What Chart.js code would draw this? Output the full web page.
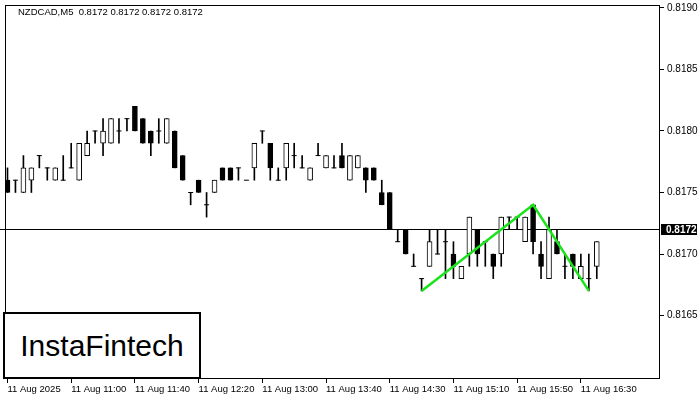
<!DOCTYPE html>
<html>
<head>
<meta charset="utf-8">
<script src="https://cdn.jsdelivr.net/npm/chart.js@4.4.1/dist/chart.umd.min.js"></script>
<style>
  body { margin: 0; background: #fff; }
  #wrap { position: relative; width: 700px; height: 400px; }
  #header { position: absolute; left: 18px; top: 6px; font: 9.5px "Liberation Sans", Arial, sans-serif; white-space: pre; color: #000; }
  #logo { position: absolute; left: 3px; top: 312px; width: 194px; height: 63px; border: 2px solid #000; background: #fff;
          font: 30px "Liberation Sans", Arial, sans-serif; line-height: 63px; text-align: center; color: #000; }
</style>
</head>
<body>
<div id="wrap">
  <canvas id="chart" width="700" height="400"></canvas>
  <div id="header">NZDCAD,M5  0.8172 0.8172 0.8172 0.8172</div>
  <div id="logo">InstaFintech</div>
</div>
<script>
// M5 bars
const opens = [0.8176,0.8176,0.8175,0.8176,0.8178,0.8177,0.8176,0.8176,0.8177,0.8176,
  0.8178,0.8180,0.8179,0.8179,0.8180,0.8181,0.8182,0.8181,0.8180,0.8180,
  0.8179,0.8180,0.8178,0.8175,0.8176,0.8174,0.8175,0.8177,0.8177,0.8177,
  0.8176,0.8177,0.8180,0.8179,0.8176,0.8177,0.8178,0.8177,0.8176,0.8178,
  0.8177,0.8177,0.8178,0.8176,0.8177,0.8177,0.8177,0.8175,0.8175,0.8171,
  0.8172,0.8169,0.8168,0.8169,0.8170,0.8171,0.8170,0.8168,0.8170,0.8172,
  0.8171,0.8170,0.8170,0.8173,0.8173,0.8171,0.8174,0.8170,0.8168,0.8171,
  0.8169,0.8170,0.8168,0.8168,0.8169];
const highs = [0.8177,0.8176,0.8178,0.8177,0.8178,0.8177,0.8177,0.8178,0.8179,0.8179,
  0.8180,0.8180,0.8181,0.8181,0.8181,0.8181,0.8182,0.8181,0.8180,0.8181,
  0.8181,0.8180,0.8178,0.8175,0.8176,0.8175,0.8176,0.8177,0.8177,0.8177,
  0.8176,0.8179,0.8180,0.8179,0.8177,0.8179,0.8179,0.8178,0.8177,0.8179,
  0.8178,0.8178,0.8179,0.8178,0.8178,0.8177,0.8177,0.8176,0.8175,0.8172,
  0.8172,0.8170,0.8168,0.8172,0.8172,0.8172,0.8171,0.8169,0.8173,0.8172,
  0.8171,0.8170,0.8173,0.8173,0.8173,0.8173,0.8174,0.8171,0.8173,0.8172,
  0.8170,0.8170,0.8170,0.8170,0.8171];
const lows = [0.8175,0.8175,0.8175,0.8175,0.8177,0.8176,0.8176,0.8176,0.8177,0.8176,
  0.8178,0.8179,0.8178,0.8179,0.8179,0.8180,0.8180,0.8179,0.8178,0.8179,
  0.8179,0.8177,0.8176,0.8174,0.8175,0.8173,0.8175,0.8176,0.8176,0.8176,
  0.8176,0.8176,0.8179,0.8176,0.8176,0.8176,0.8177,0.8177,0.8176,0.8178,
  0.8177,0.8177,0.8177,0.8176,0.8177,0.8175,0.8176,0.8174,0.8172,0.8171,
  0.8170,0.8169,0.8167,0.8169,0.8170,0.8168,0.8168,0.8168,0.8169,0.8169,
  0.8169,0.8168,0.8169,0.8172,0.8172,0.8171,0.8170,0.8168,0.8168,0.8170,
  0.8168,0.8168,0.8168,0.8167,0.8168];
const closes = [0.8175,0.8176,0.8177,0.8177,0.8178,0.8177,0.8177,0.8176,0.8177,0.8179,
  0.8179,0.8180,0.8180,0.8181,0.8180,0.8181,0.8180,0.8179,0.8179,0.8180,
  0.8181,0.8177,0.8176,0.8175,0.8175,0.8174,0.8176,0.8176,0.8176,0.8177,
  0.8176,0.8179,0.8180,0.8177,0.8176,0.8179,0.8178,0.8177,0.8177,0.8178,
  0.8178,0.8177,0.8177,0.8178,0.8178,0.8176,0.8176,0.8174,0.8172,0.8171,
  0.8170,0.8169,0.8168,0.8171,0.8170,0.8171,0.8169,0.8169,0.8173,0.8170,
  0.8171,0.8169,0.8173,0.8173,0.8173,0.8173,0.8171,0.8169,0.8172,0.8170,
  0.8169,0.8169,0.8169,0.8168,0.8171];

const tickBars = [0, 8, 16, 24, 32, 40, 48, 56, 64, 72];
const tickLabels = ['11 Aug 2025','11 Aug 11:00','11 Aug 11:40','11 Aug 12:20','11 Aug 13:00',
  '11 Aug 13:40','11 Aug 14:30','11 Aug 15:10','11 Aug 15:50','11 Aug 16:30'];
const yTicks = [0.8165, 0.8170, 0.8175, 0.8180, 0.8185, 0.8190];

// double top / bottom pattern drawn in green
const patternBars = [52, 66, 73];
const patternPrices = [0.8167, 0.8174, 0.8167];
const lastPrice = 0.8172;

const wicks = [], bodies = [], dojis = [];
opens.forEach((o, i) => {
  if (lows[i] !== highs[i]) wicks.push({x: i, y: [lows[i], highs[i]]});
  if (o !== closes[i]) bodies.push({x: i, y: [o, closes[i]]});
  else dojis.push({x: i, y: o});
});
const pattern = patternBars.map((b, i) => ({x: b, y: patternPrices[i]}));

const font = {family: '"Liberation Sans", Arial, sans-serif', size: 10};

// frame, bid line and price tag
const frame = {
  id: 'frame',
  beforeDatasetsDraw(chart) {
    const {ctx, chartArea: a, scales: {y}} = chart;
    const py = Math.round(y.getPixelForValue(lastPrice)) + 0.5;
    ctx.save();
    ctx.strokeStyle = '#000';
    ctx.lineWidth = 1;
    ctx.beginPath();
    ctx.moveTo(0, py);
    ctx.lineTo(a.right, py);
    ctx.stroke();
    ctx.restore();
  },
  afterDraw(chart) {
    const {ctx, chartArea: a, scales: {y}} = chart;
    ctx.save();
    ctx.strokeStyle = '#000';
    ctx.lineWidth = 1;
    ctx.strokeRect(a.left + 0.5, a.top + 0.5, a.right - a.left - 1, a.bottom - a.top - 1);
    const py = Math.round(y.getPixelForValue(lastPrice));
    ctx.fillStyle = '#000';
    ctx.fillRect(a.right + 1, py - 5, 36, 11);
    ctx.fillStyle = '#fff';
    ctx.font = 'bold 10px "Liberation Sans", Arial, sans-serif';
    ctx.textBaseline = 'middle';
    ctx.fillText(lastPrice.toFixed(4), a.right + 6, py + 1);
    ctx.restore();
  }
};

new Chart(document.getElementById('chart'), {
  type: 'bar',
  data: {
    datasets: [
      {type: 'line', data: pattern, borderColor: '#18e418', borderWidth: 2.5, pointRadius: 0, order: 0},
      {type: 'line', data: dojis, showLine: false, pointStyle: 'line', pointRadius: 2.5,
        pointBorderWidth: 1, pointBorderColor: '#000', order: 1},
      {data: bodies, barThickness: 5, grouped: false, borderWidth: 1, borderColor: '#000', borderSkipped: false,
        backgroundColor: c => (c.raw && c.raw.y[1] > c.raw.y[0]) ? '#fff' : '#000', order: 2},
      {data: wicks, barThickness: 1, grouped: false, backgroundColor: '#000', borderWidth: 0, order: 3}
    ]
  },
  options: {
    responsive: false,
    animation: false,
    layout: {padding: {left: 2, top: 2, right: 0, bottom: 0}},
    plugins: {legend: {display: false}, tooltip: {enabled: false}},
    scales: {
      x: {
        type: 'linear', min: -0.3125, max: 81.9375, offset: false,
        afterBuildTicks: s => { s.ticks = tickBars.map(v => ({value: v})); },
        afterFit: s => { s.height = 21; s.paddingLeft = 0; s.paddingRight = 0; },
        grid: {drawOnChartArea: false, offset: false, color: '#000', tickLength: 4},
        border: {display: false},
        ticks: {align: 'start', maxRotation: 0, autoSkip: false, padding: 1, color: '#000',
          font: {family: font.family, size: 9.5},
          callback: (v, i) => tickLabels[i]}
      },
      y: {
        position: 'right', min: 0.815984, max: 0.819024,
        afterBuildTicks: s => { s.ticks = yTicks.map(v => ({value: v})); },
        afterFit: s => { s.width = 40; s.paddingTop = 0; s.paddingBottom = 0; },
        grid: {drawOnChartArea: false, color: '#000', tickLength: 4},
        border: {display: false},
        ticks: {padding: 3, color: '#000', font, callback: v => v.toFixed(4)}
      }
    }
  },
  plugins: [frame]
});
</script>
</body>
</html>
